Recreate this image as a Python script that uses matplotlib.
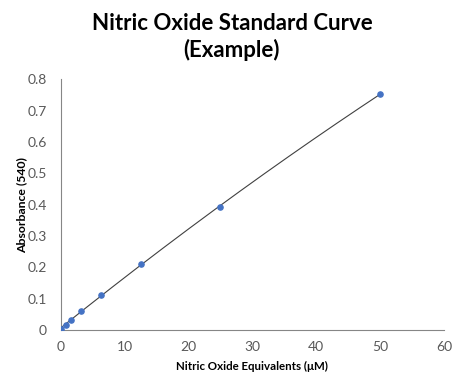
import numpy as np
import matplotlib
matplotlib.use("Agg")
import matplotlib.pyplot as plt

plt.rcParams['font.family'] = ['Lato', 'DejaVu Sans']

concentration = [0, 0.78, 1.5625, 3.125, 6.25, 12.5, 25, 50]
absorbance = [0.003, 0.018, 0.033, 0.061, 0.112, 0.212, 0.392, 0.753]
x_ticks = [0, 10, 20, 30, 40, 50, 60]
y_ticks = [0, 0.1, 0.2, 0.3, 0.4, 0.5, 0.6, 0.7, 0.8]

fig = plt.figure(figsize=(4.64, 3.88), dpi=100)
ax = fig.add_axes([0.131, 0.149, 0.826, 0.647])

# polynomial trendline
coef = np.polyfit(concentration, absorbance, 2)
xs = np.linspace(min(concentration), max(concentration), 200)
ax.plot(xs, np.polyval(coef, xs), color='#404040', lw=0.8, zorder=2)
ax.scatter(concentration, absorbance, s=14, color='#4472C4', zorder=3)

ax.set_xlim(0, 60)
ax.set_ylim(0, 0.8)
ax.set_xticks(x_ticks)
ax.set_yticks(y_ticks)
ax.set_xticklabels([str(t) for t in x_ticks])
ax.set_yticklabels(['0'] + [f'{t:.1f}' for t in y_ticks[1:]])
for s in ['top', 'right']:
    ax.spines[s].set_visible(False)
for s in ['left', 'bottom']:
    ax.spines[s].set_color('#868686')
    ax.spines[s].set_linewidth(0.8)
ax.tick_params(length=0, labelsize=10, colors='#595959', pad=8)
ax.tick_params(axis='y', pad=10)

ax.set_xlabel('Nitric Oxide Equivalents (μM)', fontsize=8.3, fontweight='bold')
ax.set_ylabel('Absorbance (540)', fontsize=8.8, fontweight='bold')
ax.xaxis.set_label_coords(0.5, (366 - 330) / -251 - 0.0)
ax.yaxis.set_label_coords((22 - 61) / 383, 0.5)
ax.xaxis.label.set_va('center')
ax.yaxis.label.set_va('center')

fig.text(0.5, 1 - 37 / 388, 'Nitric Oxide Standard Curve\n(Example)', ha='center', va='center',
         fontsize=16, fontweight='bold', linespacing=1.3)

fig.savefig('out.png', dpi=100)
